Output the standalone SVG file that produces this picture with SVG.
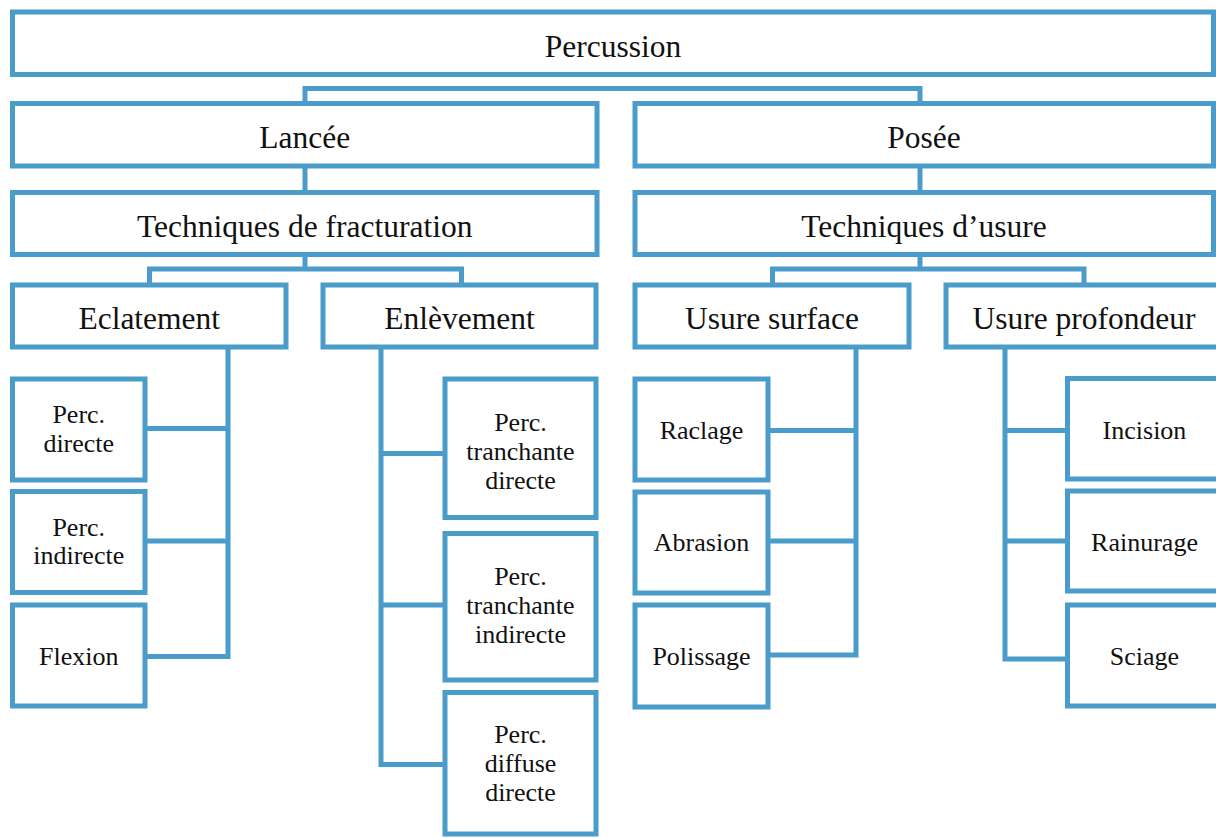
<svg xmlns="http://www.w3.org/2000/svg" width="1216" height="838" viewBox="0 0 1216 838">
<style>
.b{fill:#fff;stroke:#4a9ccb;stroke-width:5}
.c{fill:none;stroke:#4a9ccb;stroke-width:5;stroke-linejoin:miter}
.L{font-family:"Liberation Serif","Times New Roman",serif;font-size:31.5px;fill:#111;text-anchor:middle}
.S{font-family:"Liberation Serif","Times New Roman",serif;font-size:26px;fill:#111;text-anchor:middle}
</style>
<rect width="1216" height="838" fill="#fff"/>
<g id="connectors">
<path class="c" d="M305 103 V88.5 H920 V103"/>
<path class="c" d="M305 166 V192.5"/>
<path class="c" d="M920 166 V192.5"/>
<path class="c" d="M305 254.5 V269 M149.5 285 V269 H461.5 V285"/>
<path class="c" d="M920 254.5 V269 M772.5 285 V269 H1084 V285"/>
<path class="c" d="M228 347 V656.5 H145 M145 428.5 H228 M145 541 H228"/>
<path class="c" d="M381 347 V764.5 H445 M381 453.5 H445 M381 605 H445"/>
<path class="c" d="M856 347 V655 H768 M768 430.5 H856 M768 541 H856"/>
<path class="c" d="M1005 347 V659 H1067.5 M1005 430.5 H1067.5 M1005 541 H1067.5"/>
</g>
<g id="percussion"><rect class="b" x="12.5" y="12" width="1201" height="62.5"/><text class="L" x="613" y="57">Percussion</text></g>
<g id="lancee"><rect class="b" x="12.5" y="103.5" width="584.5" height="62.5"/><text class="L" x="304.75" y="148">Lancée</text></g>
<g id="posee"><rect class="b" x="635" y="103.5" width="578.5" height="62.5"/><text class="L" x="924" y="148">Posée</text></g>
<g id="fracturation"><rect class="b" x="12.5" y="192.5" width="584.5" height="62"/><text class="L" x="304.75" y="237">Techniques de fracturation</text></g>
<g id="usure"><rect class="b" x="635" y="192.5" width="578.5" height="62"/><text class="L" x="924" y="237">Techniques d’usure</text></g>
<g id="eclatement"><rect class="b" x="12.5" y="285" width="273.5" height="62"/><text class="L" x="149.25" y="329">Eclatement</text></g>
<g id="enlevement"><rect class="b" x="323" y="285" width="273" height="62"/><text class="L" x="459.5" y="329">Enlèvement</text></g>
<g id="usure-surface"><rect class="b" x="635" y="285" width="274" height="62"/><text class="L" x="772" y="329">Usure surface</text></g>
<g id="usure-profondeur"><rect class="b" x="946" y="285" width="276" height="62"/><text class="L" x="1084" y="329">Usure profondeur</text></g>
<g id="perc-directe"><rect class="b" x="12.5" y="379" width="132.5" height="101"/><text class="S" x="78.75" y="423">Perc.</text><text class="S" x="78.75" y="452">directe</text></g>
<g id="perc-indirecte"><rect class="b" x="12.5" y="491.5" width="132.5" height="101"/><text class="S" x="78.75" y="535.5">Perc.</text><text class="S" x="78.75" y="564">indirecte</text></g>
<g id="flexion"><rect class="b" x="12.5" y="605" width="132.5" height="101"/><text class="S" x="78.75" y="665">Flexion</text></g>
<g id="perc-tranchante-directe"><rect class="b" x="445" y="379" width="151" height="138.5"/><text class="S" x="520.5" y="431">Perc.</text><text class="S" x="520.5" y="459.5">tranchante</text><text class="S" x="520.5" y="488.5">directe</text></g>
<g id="perc-tranchante-indirecte"><rect class="b" x="445" y="533.5" width="151" height="146.5"/><text class="S" x="520.5" y="585">Perc.</text><text class="S" x="520.5" y="614">tranchante</text><text class="S" x="520.5" y="642.5">indirecte</text></g>
<g id="perc-diffuse-directe"><rect class="b" x="445" y="692.5" width="151" height="141.5"/><text class="S" x="520.5" y="742.5">Perc.</text><text class="S" x="520.5" y="771.5">diffuse</text><text class="S" x="520.5" y="800.5">directe</text></g>
<g id="raclage"><rect class="b" x="635" y="379" width="133" height="101"/><text class="S" x="701.5" y="438.5">Raclage</text></g>
<g id="abrasion"><rect class="b" x="635" y="492" width="133" height="101"/><text class="S" x="701.5" y="550.5">Abrasion</text></g>
<g id="polissage"><rect class="b" x="635" y="605" width="133" height="102"/><text class="S" x="701.5" y="665">Polissage</text></g>
<g id="incision"><rect class="b" x="1067.5" y="378.5" width="154" height="100.5"/><text class="S" x="1144.5" y="438.5">Incision</text></g>
<g id="rainurage"><rect class="b" x="1067.5" y="491" width="154" height="100"/><text class="S" x="1144.5" y="550.5">Rainurage</text></g>
<g id="sciage"><rect class="b" x="1067.5" y="605" width="154" height="101"/><text class="S" x="1144.5" y="665">Sciage</text></g>
</svg>
